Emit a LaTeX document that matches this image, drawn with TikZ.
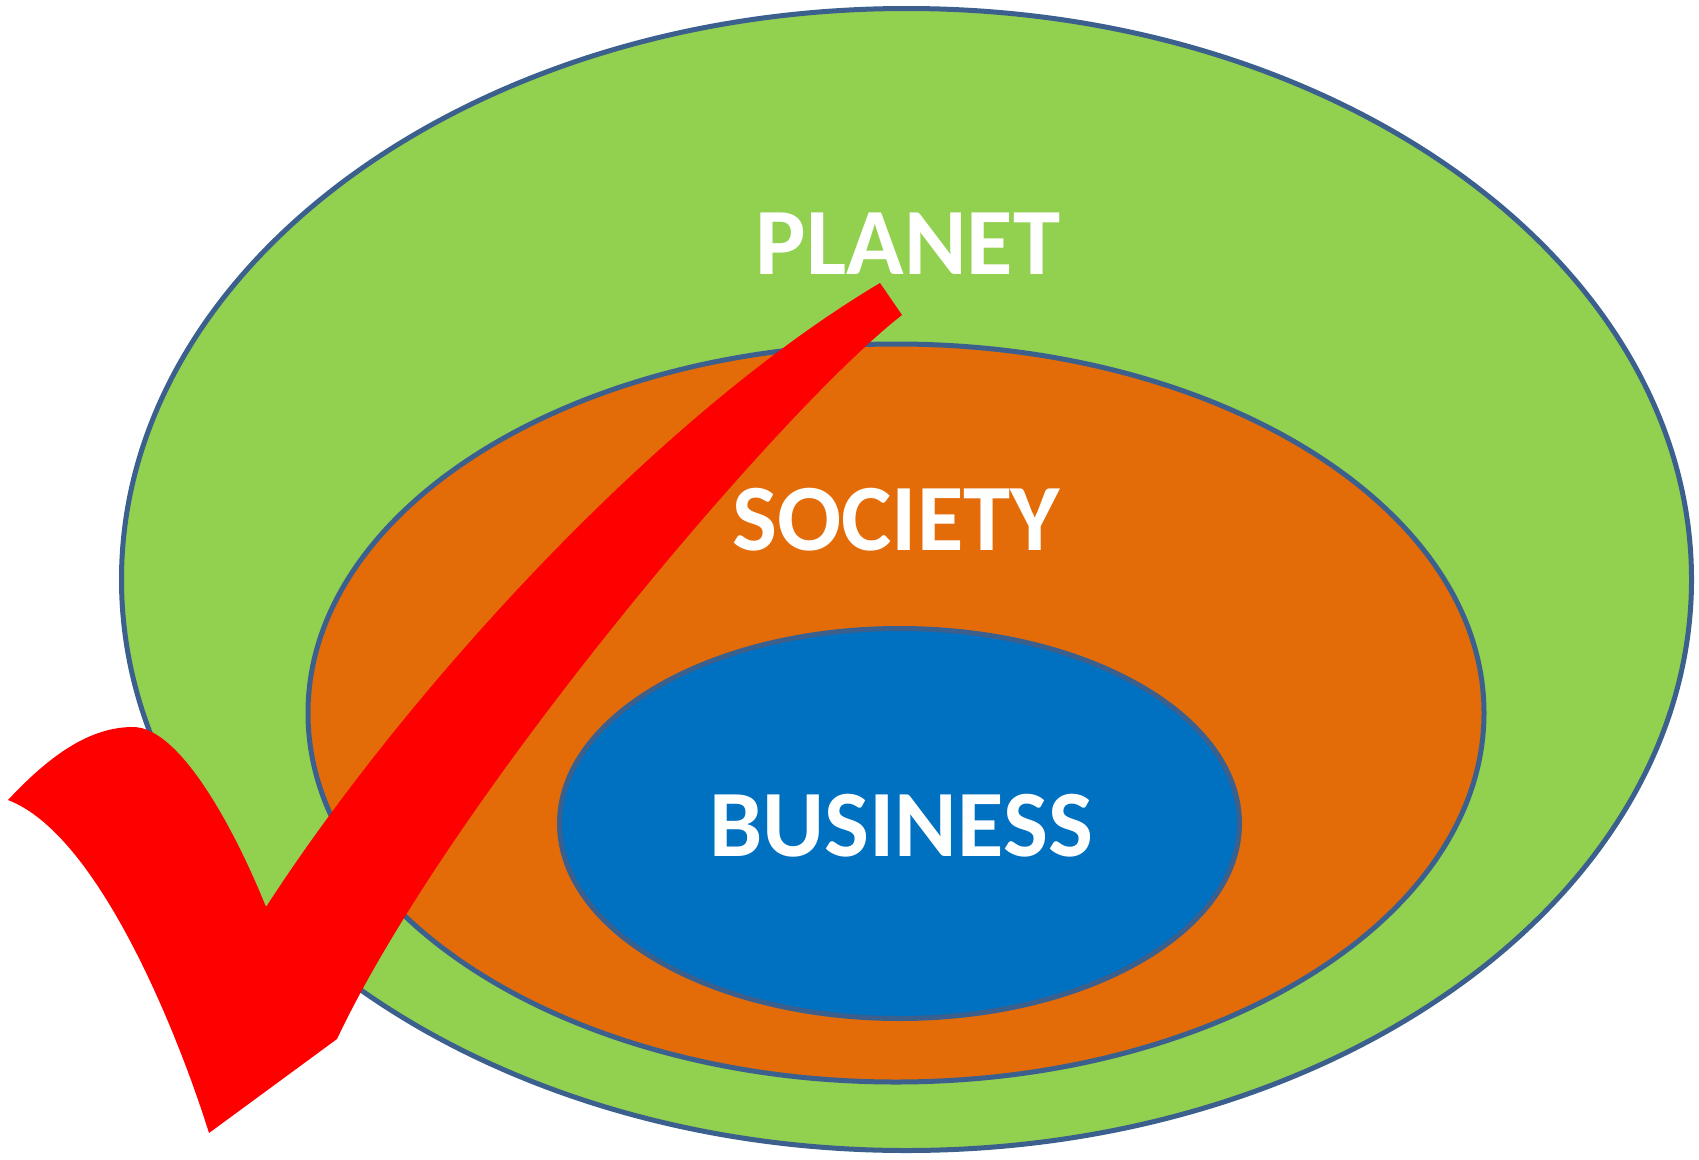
\documentclass[tikz,border=0pt]{standalone}
\usepackage{fontspec}
\setmainfont{Carlito}
\definecolor{planetgreen}{RGB}{146,208,80}
\definecolor{societyorange}{RGB}{227,108,9}
\definecolor{businessblue}{RGB}{0,112,192}
\definecolor{ringline}{RGB}{60,96,142}
\tikzset{
  ring/.style={draw=ringline, line width=5pt},
  ringtext/.style={text=white, font=\fontsize{95}{100}\selectfont\bfseries, inner sep=0pt}
}
\begin{document}
\begin{tikzpicture}[x=1pt, y=-1pt]
            \useasboundingbox (0,0) rectangle (1699,1159);
            % planet
            \draw[ring, fill=planetgreen] (906.5,579.5) ellipse [x radius=785, y radius=571];
            \draw (908,243.5) node[ringtext](planet){PLANET} ;
            % society
            \draw[ring, fill=societyorange] (896,713) ellipse [x radius=588, y radius=369];
            \draw (896,520) node[ringtext](society){SOCIETY} ;
            % business
            \draw[ring, fill=businessblue] (899.5,823.5) ellipse [x radius=340, y radius=195];
            \draw (901,825.5) node[ringtext](business){BUSINESS} ;
            % check
            \fill[red] (8,800) .. controls (50,755) and (90,727) .. (133,727)
                .. controls (180,727) and (235,830) .. (266,907)
                .. controls (400,700) and (650,420) .. (880,283)
                -- (902,315)
                .. controls (780,410) and (450,800) .. (337,1039)
                -- (209,1133)
                .. controls (180,1040) and (100,835) .. (8,800) -- cycle ;
        \end{tikzpicture}
\end{document}
